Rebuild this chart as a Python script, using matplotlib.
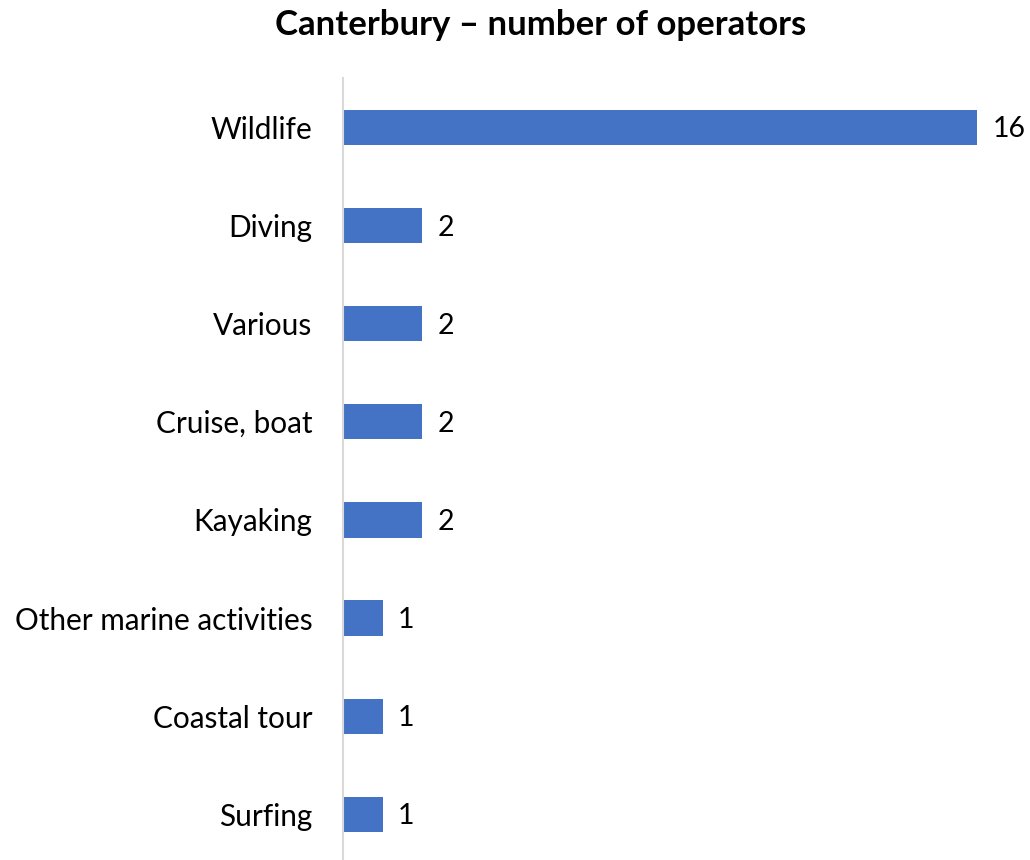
import matplotlib
matplotlib.use("Agg")
import matplotlib.pyplot as plt

# data, top to bottom
categories = ['Wildlife', 'Diving', 'Various', 'Cruise, boat', 'Kayaking',
              'Other marine activities', 'Coastal tour', 'Surfing']
operators = [16, 2, 2, 2, 2, 1, 1, 1]

plt.rcParams['font.family'] = ['Lato', 'DejaVu Sans']

fig = plt.figure(figsize=(10.3, 8.6), dpi=100)
ax = fig.add_axes([0.333, -0.004, 0.6155, 0.913])

ypos = list(range(len(categories)))
bars = ax.barh(ypos, operators, height=0.36, color='#4472C4')

ax.set_ylim(len(categories) - 0.5, -0.5)
ax.set_xlim(0, 16)
ax.set_yticks(ypos)
ax.set_yticklabels(categories, fontsize=21.4, color='#000000')
ax.tick_params(axis='y', length=0, pad=22)
ax.set_xticks([])

for side in ['top', 'right', 'bottom']:
    ax.spines[side].set_visible(False)
ax.spines['left'].set_color('#D9D9D9')
ax.spines['left'].set_linewidth(1.5)

for b, v in zip(bars, operators):
    ax.annotate(str(v), (b.get_width(), b.get_y() + b.get_height() / 2),
                xytext=(11, -1.5), textcoords='offset points',
                va='center', ha='left', fontsize=20.5, annotation_clip=False)

fig.text(0.525, 0.971, 'Canterbury \u2013 number of operators',
         ha='center', va='center', fontsize=25, fontweight='bold')

fig.savefig('out.png', dpi=100)
